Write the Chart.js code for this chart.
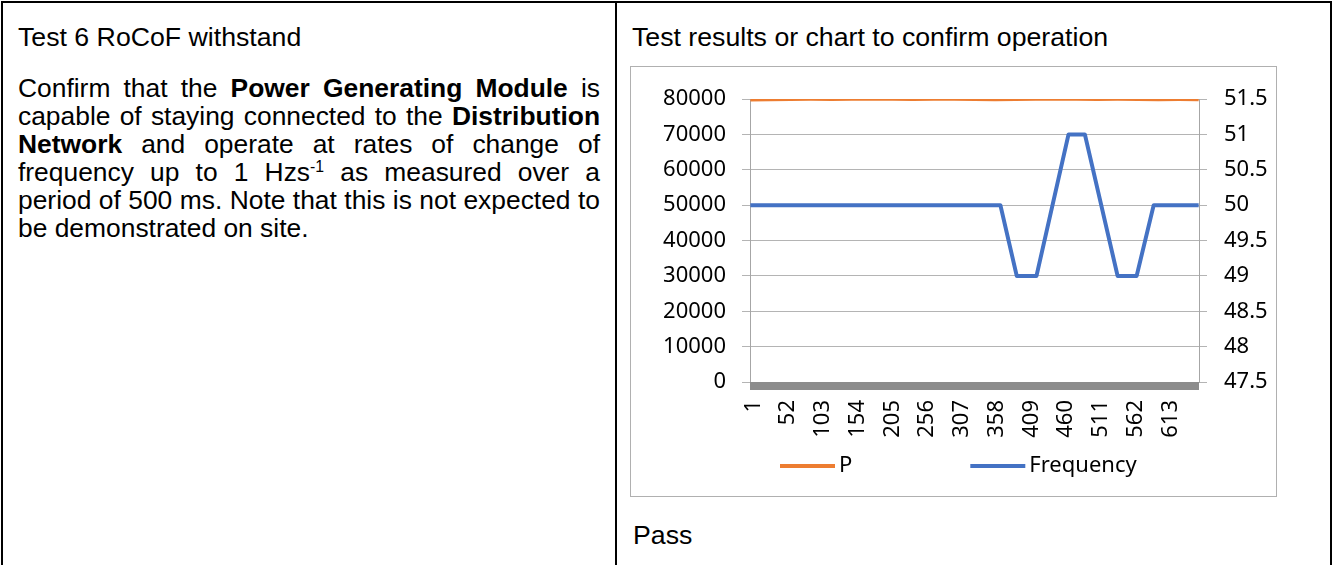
<!DOCTYPE html>
<html>
<head>
<meta charset="utf-8">
<script src="https://cdn.jsdelivr.net/npm/chart.js@4"></script>
<style>
  body { margin: 0; width: 1333px; height: 565px; overflow: hidden; background: #fff; font-family: "Liberation Sans", Arial, sans-serif; color: #000; }
  #frame { position: absolute; left: 1px; top: 1px; width: 1327px; height: 570px; border: 2px solid #000; border-bottom: none; }
  #divider { position: absolute; left: 615px; top: 1px; width: 2px; height: 570px; background: #000; }
  .txt { position: absolute; font-size: 26.7px; line-height: 28px; white-space: nowrap; }
  #para { position: absolute; left: 18px; top: 74px; width: 582px; font-size: 26.4px; line-height: 28px; }
  #para div { text-align: justify; text-align-last: justify; white-space: nowrap; }
  #para div.last { text-align-last: left; }
  sup { font-size: 60%; line-height: 0; vertical-align: 0.6em; }
  #chartBox { position: absolute; left: 630px; top: 66px; width: 647px; height: 431px; box-sizing: border-box; border: 1px solid #b0b0b0; }
  #chartBox canvas { display: block; }
</style>
</head>
<body>
<div id="frame"></div>
<div id="divider"></div>

<div class="txt" style="left:18px; top:23px;">Test 6 RoCoF withstand</div>
<div id="para">
  <div>Confirm that the <b>Power Generating Module</b> is</div>
  <div>capable of staying connected to the <b>Distribution</b></div>
  <div><b>Network</b> and operate at rates of change of</div>
  <div>frequency up to 1 Hzs<sup>-1</sup> as measured over a</div>
  <div>period of 500 ms. Note that this is not expected to</div>
  <div class="last">be demonstrated on site.</div>
</div>

<div class="txt" style="left:632px; top:23px;">Test results or chart to confirm operation</div>
<div id="chartBox"><canvas id="myChart" width="645" height="429"></canvas></div>
<div class="txt" style="left:633px; top:521px;">Pass</div>

<script>
// sample numbers shown on the category axis
var xTicks = [1, 52, 103, 154, 205, 256, 307, 358, 409, 460, 511, 562, 613];
var lastSample = 659;

// P (left axis) - read roughly every 30 samples, sits just under 80000
var pIdx  = [1, 30, 60, 90, 120, 150, 180, 210, 240, 270, 300, 330, 360, 390, 420, 450, 480, 510, 540, 570, 600, 630, 659];
var pVals = [79750, 79800, 79850, 79900, 79850, 79950, 80000, 79900, 79850, 79950, 79900, 79850, 79800, 79850, 79900, 79950, 79900, 79850, 79900, 79850, 79800, 79850, 79800];

// Frequency (right axis) - corners of the ramp profile
var fIdx  = [1, 368, 392, 421, 468, 492, 540, 568, 593, 659];
var fVals = [50, 50, 49, 49, 51, 51, 49, 49, 50, 50];

var seriesNames = ['P', 'Frequency'];
var seriesColors = ['#ED7D31', '#4472C4'];

function toPoints(idx, vals) {
  return idx.map(function (x, i) { return { x: x, y: vals[i] }; });
}

Chart.defaults.font.family = "'Noto Sans', 'Open Sans', sans-serif";
Chart.defaults.font.size = 22;
Chart.defaults.color = '#000';

// thick grey band under the category axis (dense tick marks in the original)
var axisBand = {
  id: 'axisBand',
  afterDatasetsDraw: function (chart) {
    var a = chart.chartArea, ctx = chart.ctx;
    ctx.save();
    ctx.fillStyle = '#8c8c8c';
    ctx.fillRect(a.left, a.bottom, a.right - a.left, 8);
    ctx.restore();
  }
};

// legend drawn as in the original: long line + label, wide gap
var lineLegend = {
  id: 'lineLegend',
  afterDraw: function (chart) {
    var ctx = chart.ctx;
    var y = 399;
    var x = chart.chartArea.left + 30;
    ctx.save();
    ctx.font = "22px 'Noto Sans', 'Open Sans', sans-serif";
    ctx.textBaseline = 'middle';
    chart.data.datasets.forEach(function (ds) {
      ctx.strokeStyle = ds.borderColor;
      ctx.lineWidth = 4;
      ctx.beginPath();
      ctx.moveTo(x, y);
      ctx.lineTo(x + 55, y);
      ctx.stroke();
      ctx.fillStyle = '#000';
      ctx.fillText(ds.label, x + 59, y);
      x += 59 + ctx.measureText(ds.label).width + 118;
    });
    ctx.restore();
  }
};

var ctx = document.getElementById('myChart').getContext('2d');
var chart = new Chart(ctx, {
  type: 'line',
  data: {
    datasets: [{
      label: seriesNames[0],
      data: toPoints(pIdx, pVals),
      borderColor: seriesColors[0],
      backgroundColor: seriesColors[0],
      borderWidth: 3,
      pointRadius: 0,
      yAxisID: 'y'
    },
    {
      label: seriesNames[1],
      data: toPoints(fIdx, fVals),
      borderColor: seriesColors[1],
      backgroundColor: seriesColors[1],
      borderWidth: 4,
      borderJoinStyle: 'round',
      pointRadius: 0,
      yAxisID: 'y1'
    }]
  },
  options: {
    responsive: false,
    animation: false,
    layout: { padding: { left: 0, right: 0, top: 32, bottom: 58 } },
    plugins: { legend: { display: false }, tooltip: { enabled: false } },
    scales: {
      x: {
        type: 'linear',
        min: 0.5,
        max: lastSample + 0.5,
        afterBuildTicks: function (scale) {
          scale.ticks = xTicks.map(function (v) { return { value: v }; });
        },
        afterFit: function (scale) { scale.height = 56; },
        grid: { display: false, drawTicks: false },
        border: { display: false },
        ticks: { autoSkip: false, minRotation: 90, maxRotation: 90, padding: 18, labelOffset: 3 }
      },
      y: {
        position: 'left',
        min: 0,
        max: 80000,
        afterFit: function (scale) { scale.width = 119; },
        grid: { color: '#b4b4b4', lineWidth: 1, tickLength: 8 },
        border: { color: '#a6a6a6' },
        ticks: {
          stepSize: 10000,
          padding: 16,
          callback: function (v) { return String(v); }
        }
      },
      y1: {
        position: 'right',
        min: 47.5,
        max: 51.5,
        afterFit: function (scale) { scale.width = 77; },
        grid: { drawOnChartArea: false, color: '#b4b4b4', tickLength: 8 },
        border: { color: '#a6a6a6' },
        ticks: {
          stepSize: 0.5,
          padding: 17,
          callback: function (v) { return String(Math.round(v * 10) / 10); }
        }
      }
    }
  },
  plugins: [axisBand, lineLegend]
});
</script>
</body>
</html>
